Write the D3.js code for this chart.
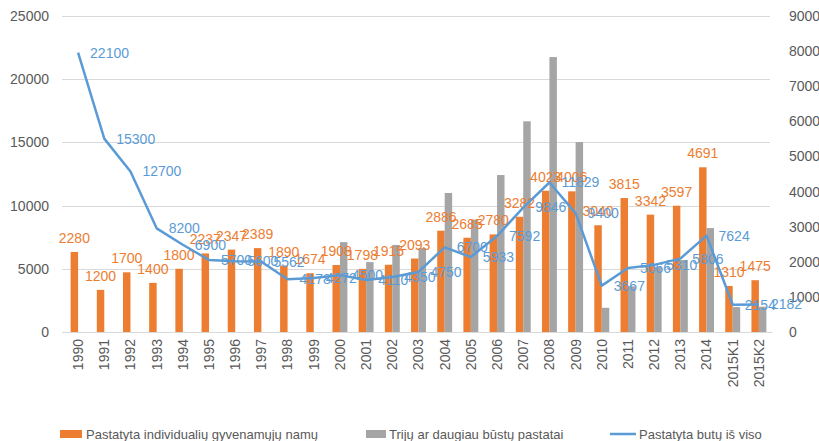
<!DOCTYPE html>
<html>
<head>
<meta charset="utf-8">
<script src="https://cdn.jsdelivr.net/npm/d3@7"></script>
<style>
  html, body { margin: 0; padding: 0; background: #fff; }
  svg { display: block; font-family: "Liberation Sans", Arial, sans-serif; }
</style>
</head>
<body>
<svg id="chart" width="819" height="441"></svg>
<script>
// ---- data ----
const categories = ["1990","1991","1992","1993","1994","1995","1996","1997","1998","1999",
  "2000","2001","2002","2003","2004","2005","2006","2007","2008","2009","2010","2011",
  "2012","2013","2014","2015K1","2015K2"];
const individualHouses = [2280,1200,1700,1400,1800,2237,2347,2389,1890,1674,
  1908,1798,1915,2093,2886,2685,2780,3282,4023,4006,3040,3815,3342,3597,4691,1310,1475];
const multiApartment = [0,0,0,0,0,0,0,0,0,0,
  2560,1990,2480,2390,3960,3200,4470,6000,7830,5410,690,1300,1850,2050,2960,710,720];
const totalDwellings = [22100,15300,12700,8200,6900,5700,5600,5562,4178,4272,
  4500,4110,4350,4750,6700,5933,7592,9846,11829,9400,3667,5066,5310,5806,7624,2154,2182];
const leftTicks = [0,5000,10000,15000,20000,25000];
const rightTicks = [0,1000,2000,3000,4000,5000,6000,7000,8000,9000];
const seriesNames = ["Pastatyta individualių gyvenamųjų namų","Trijų ar daugiau būstų pastatai","Pastatyta butų iš viso"];
const colors = { orange: "#ED7D31", gray: "#A5A5A5", blue: "#5B9BD5" };

// ---- layout ----
const svg = d3.select("#chart");
const plot = { left: 65, right: 772, top: 16, bottom: 332 };

const x = d3.scaleBand().domain(categories).range([plot.left, plot.right])
  .paddingInner(0.43).paddingOuter(0.215);
const xSub = d3.scaleBand().domain(["ind","multi"]).range([0, x.bandwidth()]).padding(0);
const yL = d3.scaleLinear().domain([0, 25000]).range([plot.bottom, plot.top]);
const yR = d3.scaleLinear().domain([0, 9000]).range([plot.bottom, plot.top]);
const cx = c => x(c) + x.bandwidth() / 2;

// gridlines
svg.append("g").selectAll("line").data(leftTicks).join("line")
  .attr("x1", 62).attr("x2", 770)
  .attr("y1", d => Math.round(yL(d)) + 0.5).attr("y2", d => Math.round(yL(d)) + 0.5)
  .attr("stroke", "#D9D9D9").attr("stroke-width", 1);

// left axis
const axL = d3.axisLeft(yL).tickValues(leftTicks).tickSize(0).tickPadding(0).tickFormat(d3.format("d"));
svg.append("g").attr("transform", "translate(49,0)").call(axL)
  .call(g => g.select(".domain").remove())
  .selectAll("text").attr("fill", "#595959").style("font-size", "14px");

// right axis
const axR = d3.axisRight(yR).tickValues(rightTicks).tickSize(0).tickPadding(0).tickFormat(d3.format("d"));
svg.append("g").attr("transform", "translate(789,0)").call(axR)
  .call(g => g.select(".domain").remove())
  .selectAll("text").attr("fill", "#595959").style("font-size", "14px");

// bars
const gb = svg.append("g");
gb.selectAll("rect.ind").data(categories).join("rect").attr("class","ind")
  .attr("x", (c) => x(c) + xSub("ind"))
  .attr("width", xSub.bandwidth())
  .attr("y", (c,i) => yR(individualHouses[i]))
  .attr("height", (c,i) => yR(0) - yR(individualHouses[i]))
  .attr("fill", colors.orange);
gb.selectAll("rect.multi").data(categories).join("rect").attr("class","multi")
  .attr("x", (c) => x(c) + xSub("multi"))
  .attr("width", xSub.bandwidth())
  .attr("y", (c,i) => yR(multiApartment[i]))
  .attr("height", (c,i) => yR(0) - yR(multiApartment[i]))
  .attr("fill", colors.gray);

// x axis labels
const axB = d3.axisBottom(x).tickSize(0).tickPadding(0);
const gx = svg.append("g").attr("transform", `translate(0,${plot.bottom})`).call(axB);
gx.select(".domain").attr("stroke", "#D9D9D9");
gx.selectAll("text")
  .attr("fill", "#595959").style("font-size", "14px")
  .attr("text-anchor", "end")
  .attr("transform", "translate(0,7) rotate(-90)")
  .attr("x", 0).attr("y", 0).attr("dy", "0.35em");

// orange labels
svg.append("g").selectAll("text").data(categories).join("text")
  .attr("x", c => x(c) + xSub("ind") + xSub.bandwidth() / 2)
  .attr("y", (c,i) => yR(individualHouses[i]) - 9)
  .attr("text-anchor", "middle")
  .attr("fill", colors.orange).style("font-size", "14px")
  .text((c,i) => individualHouses[i]);

// line
const line = d3.line().x(c => cx(c)).y((c,i) => yL(totalDwellings[i]));
svg.append("path").datum(categories).attr("d", line)
  .attr("fill", "none").attr("stroke", colors.blue).attr("stroke-width", 2.5)
  .attr("stroke-linejoin", "round");

// line labels
svg.append("g").selectAll("text").data(categories).join("text")
  .attr("x", c => cx(c) + 12)
  .attr("y", (c,i) => yL(totalDwellings[i]))
  .attr("dy", "0.35em")
  .attr("fill", colors.blue).style("font-size", "14px")
  .text((c,i) => totalDwellings[i]);

// legend
const lg = svg.append("g").style("font-size", "13px");
const ly = 434;
lg.append("rect").attr("x", 60).attr("y", ly - 4).attr("width", 22).attr("height", 8).attr("fill", colors.orange);
lg.append("text").attr("x", 86).attr("y", ly).attr("dy", "0.35em").attr("fill", "#595959").text(seriesNames[0]);
lg.append("rect").attr("x", 366).attr("y", ly - 4).attr("width", 20).attr("height", 8).attr("fill", colors.gray);
lg.append("text").attr("x", 389).attr("y", ly).attr("dy", "0.35em").attr("fill", "#595959").text(seriesNames[1]);
lg.append("line").attr("x1", 610).attr("x2", 636).attr("y1", ly).attr("y2", ly).attr("stroke", colors.blue).attr("stroke-width", 2.5);
lg.append("text").attr("x", 639).attr("y", ly).attr("dy", "0.35em").attr("fill", "#595959").text(seriesNames[2]);
</script>
</body>
</html>
